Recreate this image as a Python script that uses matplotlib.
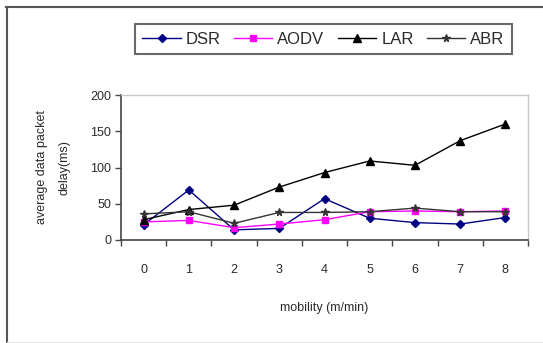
import numpy as np
import matplotlib.pyplot as plt
from matplotlib.lines import Line2D

# mobility steps on the x axis
mobility = [0, 1, 2, 3, 4, 5, 6, 7, 8]

# average data packet delay (ms) for each protocol
dsr = [21, 69, 14, 16, 57, 30, 24, 22, 31]
aodv = [25, 27, 17, 22, 28, 39, 40, 39, 40]
lar = [28, 42, 48, 73, 93, 109, 103, 137, 160]
abr = [36, 39, 23, 38, 38, 39, 44, 39, 39]

y_ticks = [0, 50, 100, 150, 200]

plt.rcParams["font.family"] = ["Liberation Sans", "DejaVu Sans"]
text_colour = "#2a2a2a"

fig = plt.figure(figsize=(5.43, 3.43), dpi=100)
ax = fig.add_axes([121 / 543, 1 - 240 / 343, 407 / 543, 145 / 343])

x = np.arange(len(mobility))
ax.plot(x, dsr, color="#000080", lw=1.0, marker="D", ms=4.5, label="DSR")
ax.plot(x, aodv, color="#ff00ff", lw=1.0, marker="s", ms=5, label="AODV")
ax.plot(x, lar, color="black", lw=1.0, marker="^", ms=6, label="LAR")
ax.plot(x, abr, color="#333333", lw=1.0, marker="*", ms=5.5, label="ABR")

ax.set_xlim(-0.5, len(mobility) - 0.5)
ax.set_ylim(0, 200)
ax.set_yticks(y_ticks)
ax.set_xticks(x)
ax.set_xticklabels([str(m) for m in mobility])
ax.set_xticks(np.arange(-0.5, len(mobility)), minor=True)

ax.tick_params(axis="x", which="major", length=0, pad=17, labelsize=9, labelcolor=text_colour)
ax.tick_params(axis="x", which="minor", length=4, width=1, color="#444444", direction="out")
ax.tick_params(axis="y", length=4, width=1, color="#444444", direction="out", pad=3,
               labelsize=9, labelcolor=text_colour)

for side in ("left", "bottom"):
    ax.spines[side].set_color("#444444")
    ax.spines[side].set_linewidth(1.2)
for side in ("top", "right"):
    ax.spines[side].set_color("#c8c8c8")
    ax.spines[side].set_linewidth(1.0)

ax.set_xlabel("mobility (m/min)", fontsize=9, color=text_colour, labelpad=19)
ax.set_ylabel("average data packet\ndelay(ms)", fontsize=9, color=text_colour,
              linespacing=2.2, labelpad=14)

leg = ax.legend(loc="center", ncol=4, bbox_to_anchor=(323.5 / 543, 1 - 39 / 343),
                bbox_transform=fig.transFigure, fontsize=12, frameon=True,
                fancybox=False, handlelength=2.3, handletextpad=0.3,
                columnspacing=0.8, borderpad=0.45)
leg.get_frame().set_edgecolor("#444444")
leg.get_frame().set_linewidth(1.5)
for t in leg.get_texts():
    t.set_color(text_colour)

# outer frame round the chart area
fig.add_artist(Line2D([6 / 543, 1], [1 - 7 / 343, 1 - 7 / 343], color="#555555", lw=1.5,
                      transform=fig.transFigure))
fig.add_artist(Line2D([7 / 543, 7 / 543], [0, 1 - 7 / 343], color="#555555", lw=1.5,
                      transform=fig.transFigure))
fig.add_artist(Line2D([7 / 543, 1], [1 / 343, 1 / 343], color="#e6e6e6", lw=0.8,
                      transform=fig.transFigure))

fig.savefig("out.png", dpi=100)
